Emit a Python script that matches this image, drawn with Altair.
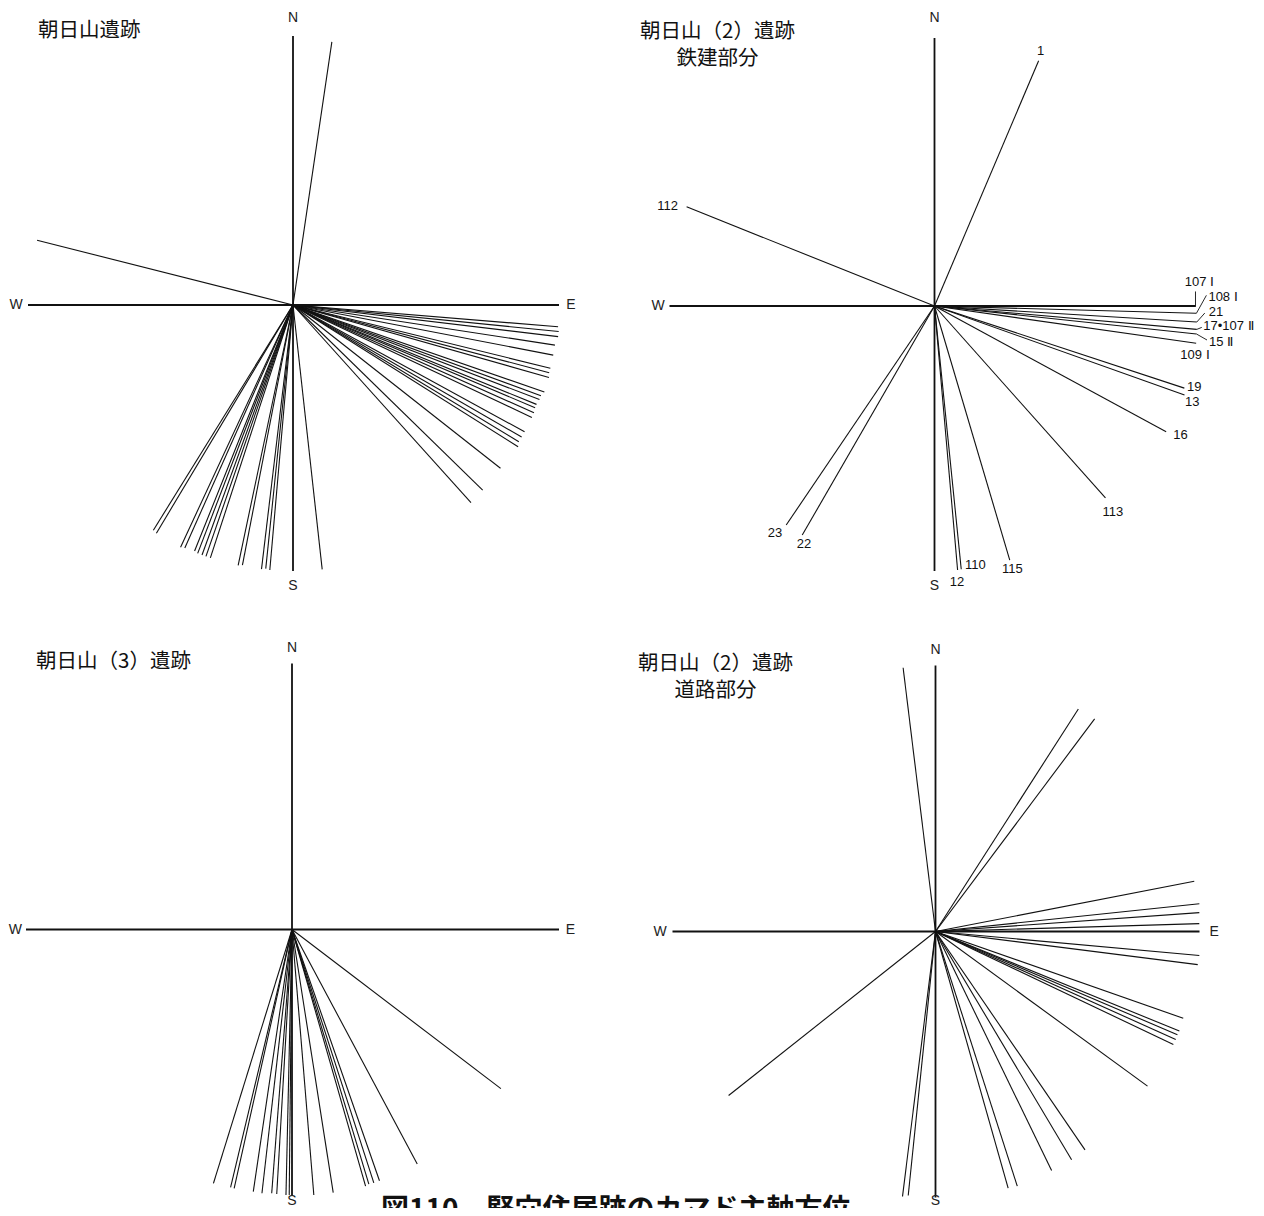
import altair as alt
import pandas as pd

# ---------------- data (bearing in degrees clockwise from north, length) ----------------
# Panel 1: 朝日山遺跡
p1_angles = [8.4, 284.2,
             94.7, 95.7, 96.8, 98.7, 100.9, 103.8, 104.8, 105.8, 109.1, 110.1, 111.0,
             112.2, 113.0, 114.1, 115.2, 118.7, 120.0, 121.2, 122.2, 128.2, 134.3, 138.0,
             173.7, 185.0, 185.9, 186.8, 191.0, 191.9, 198.1, 199.1, 200.0, 201.0, 201.8,
             204.0, 204.9, 210.9, 211.8]
p1_lengths = [266, 264,
              266, 267, 267, 265, 265, 265, 265, 266, 266, 264, 264,
              263, 263, 264, 264, 264, 264, 264, 266, 264, 265, 266,
              266, 266, 265, 266, 265, 266, 266, 266, 266, 266, 265,
              266, 267, 266, 265]

# Panel 2: 朝日山(2)遺跡 鉄建部分 (labelled lines)
p2_names = ["1", "112", "107 Ⅰ", "108 Ⅰ", "21", "17•107 Ⅱ", "15 Ⅱ", "109 Ⅰ",
            "19", "13", "16", "113", "115", "110", "12", "23", "22"]
p2_angles = [23.0, 291.8, 90.1, 91.6, 93.5, 95.1, 96.1, 98.1,
             108.2, 109.6, 118.5, 138.3, 163.5, 174.2, 175.0, 214.1, 210.0]
p2_lengths = [266.5, 267, 261, 262, 262.8, 263.3, 263.5, 264.3,
              263, 265.4, 263.6, 257, 265, 264.6, 265, 264.5, 264.5]

# Panel 3: 朝日山(3)遺跡
p3_angles = [197.2, 193.4, 192.6, 188.4, 186.5, 184.4, 183.3, 181.3, 180.6,
             175.3, 171.1, 164.0, 163.2, 162.1, 160.8, 151.9, 127.3]
p3_lengths = [265.7, 265, 265.2, 265, 265.5, 264.6, 265, 265.6, 265.5,
              266.4, 266.4, 266.9, 265.9, 266.2, 266, 265.9, 262.6]

# Panel 4: 朝日山(2)遺跡 道路部分
p4_angles = [353.0, 32.7, 36.8, 79.0, 84.0, 85.9, 88.3, 95.2, 97.2,
             109.3, 112.2, 113.1, 114.2, 115.4, 126.1,
             145.6, 149.2, 154.1, 162.2, 164.2, 185.9, 187.1, 231.6]
p4_lengths = [265.7, 264.4, 265.6, 263.6, 265.3, 264.5, 263.9, 264.9, 264.3,
              262.5, 263.4, 263, 263.4, 263.3, 262.4,
              264.6, 265.8, 265.8, 267.5, 266.8, 265.4, 267, 264]

# Compass arms of each panel
axis_panels = [1, 1, 1, 1, 2, 2, 2, 2, 3, 3, 3, 3, 4, 4, 4, 4]
axis_angles = [0, 90, 180, 270] * 4
axis_lengths = [269, 266, 266, 265,
                268, 261, 265, 265,
                266, 267, 266, 266,
                266, 264, 266, 263]
axis_labels = ["N", "E", "S", "W",
               "N", "", "S", "W",
               "N", "E", "S", "W",
               "N", "E", "S", "W"]

panel_titles = ["朝日山遺跡", "朝日山（2）遺跡", "鉄建部分", "朝日山（3）遺跡", "朝日山（2）遺跡", "道路部分"]
figure_title = "図110　竪穴住居跡のカマド主軸方位"

# ---------------- layout ----------------
W_CHART, H_CHART = 1248, 1200
centers = {1: (293, 305), 2: (934.5, 306), 3: (292, 929.5), 4: (935.5, 931.5)}
axis_label_r = [287, 278, 281, 277,
                288, 0, 280, 276.5,
                281.5, 278.3, 271, 276.7,
                281.5, 278.7, 269.5, 275.5]

# panel-2 label placement relative to the line end: (dx, dy, align, leader_dx, leader_dy)
p2_label_layout = {
    "1": (1.9, -9.7, "center", 0, 0),
    "112": (-19, -1.3, "center", 0, 0),
    "107 Ⅰ": (4, -24, "center", 0, -15),
    "108 Ⅰ": (12, -16, "left", 10, -18),
    "21": (12, -10.5, "left", 8, -9),
    "17•107 Ⅱ": (6.5, -3.7, "left", 5, -2),
    "15 Ⅱ": (12.5, 7.7, "left", 10.5, 6),
    "109 Ⅰ": (-1.2, 11.8, "center", 0, 0),
    "19": (2.7, -1.4, "left", 0, 0),
    "13": (0.5, 6.7, "left", 0, 0),
    "16": (7, 3.2, "left", 0, 0),
    "113": (7.5, 14, "center", 0, 0),
    "115": (2.7, 9.2, "center", 0, 0),
    "110": (3.8, -4.2, "left", 0, 0),
    "12": (-0.6, 11.7, "center", 0, 0),
    "23": (-11.2, 8.3, "center", 0, 0),
    "22": (1.8, 8.9, "center", 0, 0),
}

title_layout = [  # (x, y, align)
    (38, 30.7, "left"),
    (717.5, 31.6, "center"),
    (717.5, 58.9, "center"),
    (36, 661.5, "left"),
    (715.5, 663.5, "center"),
    (715.5, 690.5, "center"),
]

# ---------------- tables ----------------
rows = []
for p, angs, lens in [(1, p1_angles, p1_lengths), (2, p2_angles, p2_lengths),
                      (3, p3_angles, p3_lengths), (4, p4_angles, p4_lengths)]:
    for a, l in zip(angs, lens):
        rows.append({"panel": p, "angle": a, "length": l})
df_lines = pd.DataFrame(rows)
df_lines["cx"] = df_lines["panel"].map(lambda p: centers[p][0])
df_lines["cy"] = df_lines["panel"].map(lambda p: centers[p][1])

df_axes = pd.DataFrame({"panel": axis_panels, "angle": axis_angles,
                        "length": axis_lengths, "label": axis_labels,
                        "lab_r": axis_label_r})
df_axes["cx"] = df_axes["panel"].map(lambda p: centers[p][0])
df_axes["cy"] = df_axes["panel"].map(lambda p: centers[p][1])

df_p2 = pd.DataFrame({"name": p2_names, "angle": p2_angles, "length": p2_lengths})
df_p2["cx"] = centers[2][0]
df_p2["cy"] = centers[2][1]
df_p2["tdx"] = df_p2["name"].map(lambda n: p2_label_layout[n][0])
df_p2["tdy"] = df_p2["name"].map(lambda n: p2_label_layout[n][1])
df_p2["align"] = df_p2["name"].map(lambda n: p2_label_layout[n][2])
df_p2["ldx"] = df_p2["name"].map(lambda n: p2_label_layout[n][3])
df_p2["ldy"] = df_p2["name"].map(lambda n: p2_label_layout[n][4])

df_titles = pd.DataFrame({
    "text": panel_titles,
    "x": [t[0] for t in title_layout],
    "y": [t[1] for t in title_layout],
    "align": [t[2] for t in title_layout],
})

df_fig = pd.DataFrame({"text": [figure_title], "x": [381], "y": [1197]})

# ---------------- chart ----------------
xs = alt.Scale(domain=[8, 8 + W_CHART], nice=False, zero=False)
ys = alt.Scale(domain=[8, 8 + H_CHART], reverse=True, nice=False, zero=False)

end_calc = dict(
    ex="datum.cx + datum.length * sin(datum.angle * PI / 180)",
    ey="datum.cy - datum.length * cos(datum.angle * PI / 180)",
)

radial = alt.Chart(df_lines).transform_calculate(**end_calc).mark_rule(
    color="#111", strokeWidth=1.1
).encode(
    x=alt.X("cx:Q", scale=xs, axis=None),
    y=alt.Y("cy:Q", scale=ys, axis=None),
    x2="ex:Q", y2="ey:Q",
)

arms = alt.Chart(df_axes).transform_calculate(**end_calc).mark_rule(
    color="#111", strokeWidth=1.8
).encode(
    x=alt.X("cx:Q", scale=xs, axis=None),
    y=alt.Y("cy:Q", scale=ys, axis=None),
    x2="ex:Q", y2="ey:Q",
)

compass_text = alt.Chart(df_axes).transform_filter("datum.label != ''").transform_calculate(
    lx="datum.cx + datum.lab_r * sin(datum.angle * PI / 180)",
    ly="datum.cy - datum.lab_r * cos(datum.angle * PI / 180)",
).mark_text(font="Liberation Sans", fontSize=14, color="#222", baseline="middle", align="center").encode(
    x=alt.X("lx:Q", scale=xs, axis=None),
    y=alt.Y("ly:Q", scale=ys, axis=None),
    text="label:N",
)

p2_base = alt.Chart(df_p2).transform_calculate(**end_calc).transform_calculate(
    tx="datum.ex + datum.tdx", ty="datum.ey + datum.tdy",
    lx="datum.ex + datum.ldx", ly="datum.ey + datum.ldy",
)

leaders = p2_base.transform_filter("datum.ldx != 0 || datum.ldy != 0").mark_rule(
    color="#111", strokeWidth=0.9
).encode(
    x=alt.X("ex:Q", scale=xs, axis=None),
    y=alt.Y("ey:Q", scale=ys, axis=None),
    x2="lx:Q", y2="ly:Q",
)

p2_labels = []
for al in ["left", "center"]:
    p2_labels.append(
        p2_base.transform_filter(f"datum.align == '{al}'").mark_text(
            font="Liberation Sans", fontSize=13, color="#111", baseline="middle", align=al
        ).encode(
            x=alt.X("tx:Q", scale=xs, axis=None),
            y=alt.Y("ty:Q", scale=ys, axis=None),
            text="name:N",
        )
    )

titles = []
for al in ["left", "center"]:
    titles.append(
        alt.Chart(df_titles).transform_filter(f"datum.align == '{al}'").mark_text(
            font="Noto Sans CJK JP", fontSize=20.5, color="#111", baseline="middle", align=al
        ).encode(
            x=alt.X("x:Q", scale=xs, axis=None),
            y=alt.Y("y:Q", scale=ys, axis=None),
            text="text:N",
        )
    )

fig_title = alt.Chart(df_fig).mark_text(
    font="Noto Sans CJK JP", fontSize=28, fontWeight="bold", color="#111",
    baseline="top", align="left"
).encode(
    x=alt.X("x:Q", scale=xs, axis=None),
    y=alt.Y("y:Q", scale=ys, axis=None),
    text="text:N",
)

chart = alt.layer(radial, arms, compass_text, leaders, *p2_labels, *titles, fig_title).properties(
    width=W_CHART, height=H_CHART,
    autosize=alt.AutoSizeParams(type="none"),
    padding=0,
    background="white",
).configure_view(stroke=None)

chart.save("out.html", embed_options={"renderer": "svg", "actions": False})
